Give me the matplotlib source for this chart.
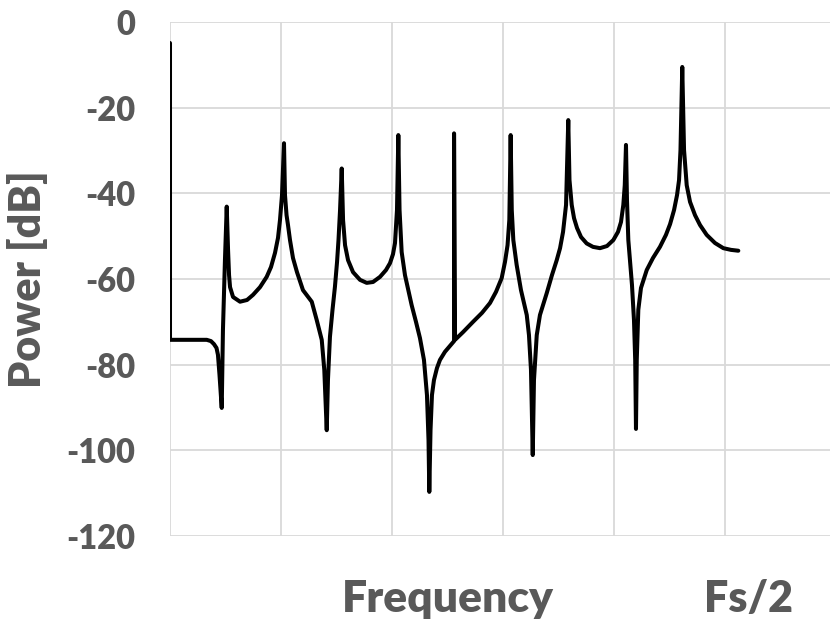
import numpy as np
import matplotlib
matplotlib.use("Agg")
import matplotlib.pyplot as plt

plt.rcParams['font.family'] = ['Lato', 'DejaVu Sans']

# frequency in grid units (0 .. 6), power in dB
freq = [0.000, 0.000, 0.331, 0.369, 0.396, 0.419, 0.432, 0.446, 0.466, 0.477,
        0.495, 0.511, 0.523, 0.532, 0.541, 0.568, 0.631, 0.694, 0.748, 0.811,
        0.871, 0.910, 0.946, 0.973, 0.991, 1.009, 1.027, 1.036, 1.050, 1.063,
        1.081, 1.108, 1.144, 1.198, 1.277, 1.322, 1.367, 1.390, 1.412, 1.423,
        1.441, 1.464, 1.486, 1.505, 1.518, 1.532, 1.547, 1.559, 1.577, 1.604,
        1.649, 1.712, 1.772, 1.829, 1.892, 1.946, 1.982, 2.009, 2.027, 2.045,
        2.057, 2.068, 2.087, 2.117, 2.177, 2.216, 2.252, 2.288, 2.315, 2.329,
        2.336, 2.347, 2.360, 2.378, 2.405, 2.432, 2.477, 2.523, 2.559, 2.559,
        2.568, 2.640, 2.730, 2.811, 2.883, 2.937, 2.988, 3.018, 3.041, 3.057,
        3.069, 3.079, 3.093, 3.123, 3.162, 3.214, 3.234, 3.252, 3.268, 3.279,
        3.304, 3.333, 3.394, 3.441, 3.484, 3.514, 3.541, 3.568, 3.588, 3.599,
        3.619, 3.640, 3.667, 3.703, 3.754, 3.811, 3.874, 3.937, 3.994, 4.036,
        4.063, 4.084, 4.097, 4.108, 4.117, 4.129, 4.144, 4.162, 4.180, 4.191,
        4.198, 4.205, 4.219, 4.243, 4.295, 4.351, 4.414, 4.468, 4.505, 4.541,
        4.568, 4.586, 4.599, 4.615, 4.631, 4.655, 4.685, 4.730, 4.775, 4.835,
        4.910, 4.985, 5.054, 5.120]
power = [-4.9, -74.2, -74.2, -74.5, -75.2, -76.1, -77.7, -82.4, -90.1, -71.9,
         -55.6, -43.1, -53.2, -59.1, -61.9, -64.2, -65.3, -64.9, -63.7, -61.9,
         -59.5, -57.2, -53.9, -50.4, -46.2, -40.4, -28.3, -40.4, -45.1, -47.4,
         -50.9, -55.1, -58.4, -62.6, -65.3, -69.6, -74.2, -81.2, -95.3, -83.6,
         -73.5, -67.2, -61.8, -56.0, -50.9, -43.9, -34.2, -46.2, -52.1, -55.6,
         -58.4, -60.2, -60.9, -60.7, -59.5, -57.9, -56.3, -54.2, -51.6, -43.9,
         -26.4, -43.9, -53.7, -59.1, -66.1, -70.0, -73.8, -78.9, -87.1, -97.6,
         -109.7, -95.3, -87.1, -83.6, -80.8, -78.9, -77.0, -75.6, -74.5, -26.0,
         -74.2, -72.4, -70.0, -67.9, -65.6, -63.0, -59.8, -56.0, -52.1, -46.2,
         -26.4, -43.9, -50.9, -56.7, -62.6, -68.4, -73.1, -81.2, -101.1, -83.6,
         -73.1, -68.4, -63.3, -59.1, -55.6, -52.8, -49.0, -42.7, -22.9, -36.9,
         -42.7, -45.8, -48.1, -50.2, -51.7, -52.5, -52.8, -52.3, -50.9, -49.0,
         -46.7, -42.7, -38.1, -28.7, -41.6, -50.9, -55.6, -61.4, -69.6, -78.9,
         -95.0, -78.9, -67.2, -62.1, -57.9, -55.1, -52.5, -49.7, -47.2, -43.9,
         -40.4, -36.9, -29.9, -10.5, -29.9, -38.1, -42.0, -45.1, -47.4, -49.7,
         -51.6, -52.8, -53.2, -53.4]

yticks = [0, -20, -40, -60, -80, -100, -120]
txt_col = '#595959'

fig = plt.figure(figsize=(8.3, 6.2), dpi=100)
ax = fig.add_axes([170/830, 1-536/620, (836-170)/830, (536-22)/620])

ax.plot(freq, power, color='black', lw=2.9, solid_joinstyle='round', solid_capstyle='round')

ax.set_xlim(0, 6)
ax.set_ylim(-120, 0)
ax.set_xticks(np.arange(0, 7))
ax.set_xticklabels([])
ax.set_yticks(yticks)
ax.set_yticklabels([str(t) for t in yticks], fontsize=23.5, fontweight='heavy', color=txt_col)
ax.tick_params(length=0, pad=25)
ax.grid(True, color='#d9d9d9', lw=1.3)
for s in ax.spines.values():
    s.set_visible(False)
ax.set_axisbelow(True)

ax.set_ylabel('Power [dB]', fontsize=31, fontweight='heavy', color=txt_col, labelpad=13)
fig.text(448/830, 1-612/620, 'Frequency', fontsize=32, fontweight='heavy', color=txt_col,
         ha='center', va='baseline')
fig.text(748/830, 1-612/620, 'Fs/2', fontsize=31, fontweight='heavy', color=txt_col,
         ha='center', va='baseline')

fig.savefig('out.png', dpi=100)
